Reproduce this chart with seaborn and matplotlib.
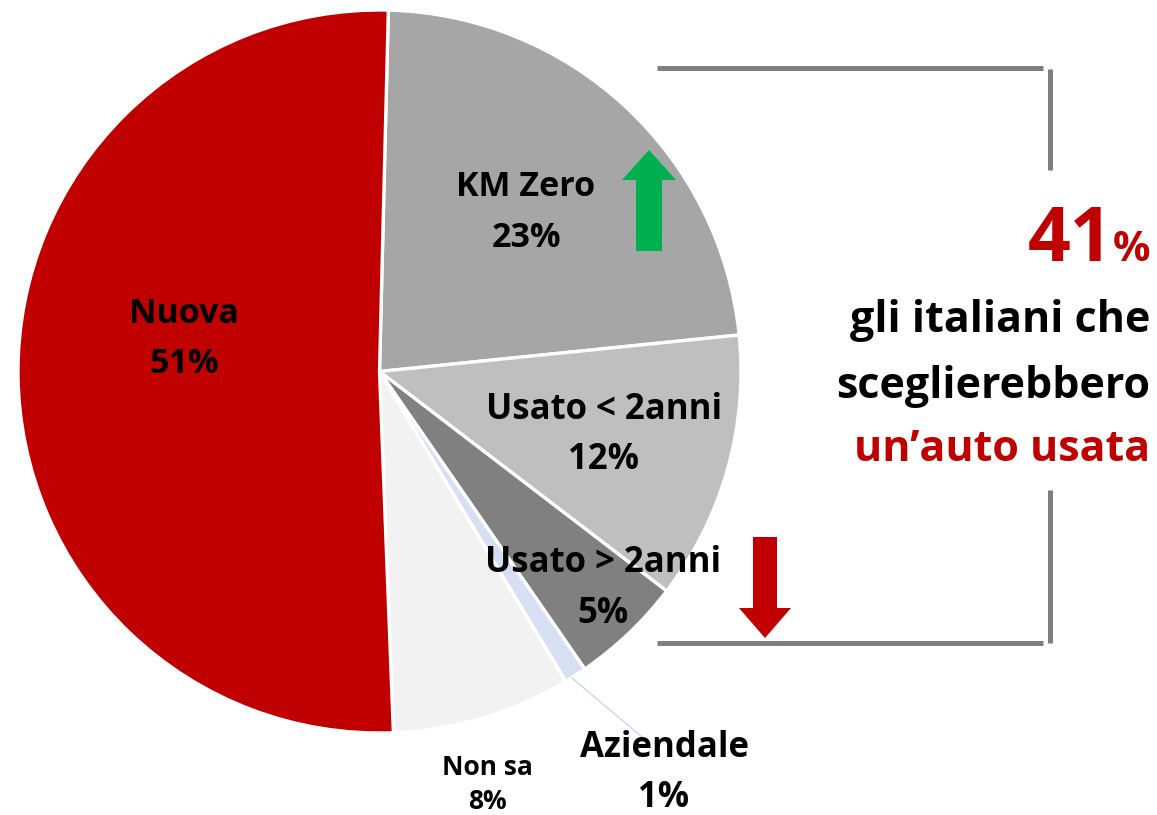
import matplotlib
matplotlib.use("Agg")
import matplotlib.pyplot as plt
import matplotlib.patches as mpatches
import seaborn as sns

# ---------------- data ----------------
categories = ["KM Zero", "Usato < 2anni", "Usato > 2anni", "Aziendale", "Non sa", "Nuova"]
values = [23, 12, 5, 1, 8, 51]
pct_labels = ["23%", "12%", "5%", "1%", "8%", "51%"]
colors = ["#A6A6A6", "#BFBFBF", "#808080", "#D6E0F2", "#F2F2F2", "#C00000"]
headline_value = "41"
headline_lines = ["gli italiani che", "sceglierebbero", "un\u2019auto usata"]

sns.set_theme(style="white")
plt.rcParams["font.family"] = ["Open Sans", "DejaVu Sans"]

W, H = 1157, 815
fig = plt.figure(figsize=(W / 100, H / 100), dpi=100)
ax = fig.add_axes([0, 0, 1, 1])

def Y(py):
    return H - py

cx, cy, R = 379.5, 371.5, 361.5
wedges, _ = ax.pie(values, colors=colors, startangle=88.6, counterclock=False,
                   center=(cx, Y(cy)), radius=R,
                   wedgeprops=dict(edgecolor="white", linewidth=2.4))
ax.set_xlim(0, W)
ax.set_ylim(0, H)
ax.set_aspect("equal")
ax.axis("off")

# ---------- slice labels ----------
lab = dict(fontweight="bold", color="black", ha="center", va="baseline")
label_pos = {
    "Nuova": (184, 323, 373, 24.5),
    "KM Zero": (526, 196, 247, 24.5),
    "Usato < 2anni": (604, 419, 469, 25),
    "Usato > 2anni": (603, 572, 623, 25),
    "Aziendale": (664, 757, 807, 25),
    "Non sa": (487, 775, 809, 19),
}
for cat, pct in zip(categories, pct_labels):
    x, y1, y2, fs = label_pos[cat]
    ax.text(x, Y(y1), cat, fontsize=fs, **lab)
    ax.text(x, Y(y2), pct, fontsize=fs, **lab)

# leader line for Aziendale
ax.plot([572, 642], [Y(678), Y(737)], color="#C9D6EE", lw=1.0)

# ---------- arrows ----------
ax.add_patch(mpatches.FancyArrow(649, Y(251), 0, 101, width=26, head_width=54,
                                 head_length=30, length_includes_head=True,
                                 color="#00B050", lw=0))
ax.add_patch(mpatches.FancyArrow(765, Y(537), 0, -101, width=24, head_width=52,
                                 head_length=30, length_includes_head=True,
                                 color="#C00000", lw=0))

# ---------- bracket ----------
gray = "#7F7F7F"
blw = 3.6
ax.plot([657, 1043], [Y(68), Y(68)], color=gray, lw=blw, solid_capstyle="butt")
ax.plot([657, 1043], [Y(643), Y(643)], color=gray, lw=blw, solid_capstyle="butt")
ax.plot([1050, 1050], [Y(69), Y(170)], color=gray, lw=blw, solid_capstyle="butt")
ax.plot([1050, 1050], [Y(490), Y(643)], color=gray, lw=blw, solid_capstyle="butt")

# ---------- headline ----------
red = "#C00000"
ax.text(1113, Y(261), headline_value, fontsize=54, fontweight="bold",
        color=red, ha="right", va="baseline")
ax.text(1150, Y(261), "%", fontsize=30, fontweight="bold", color=red,
        ha="right", va="baseline")
ax.text(1150, Y(332), headline_lines[0], fontsize=31, fontweight="bold",
        color="black", ha="right", va="baseline")
ax.text(1150, Y(398), headline_lines[1], fontsize=31, fontweight="bold",
        color="black", ha="right", va="baseline")
ax.text(1150, Y(461), headline_lines[2], fontsize=31, fontweight="bold",
        color=red, ha="right", va="baseline")

fig.savefig("out.png", dpi=100, facecolor="white")
